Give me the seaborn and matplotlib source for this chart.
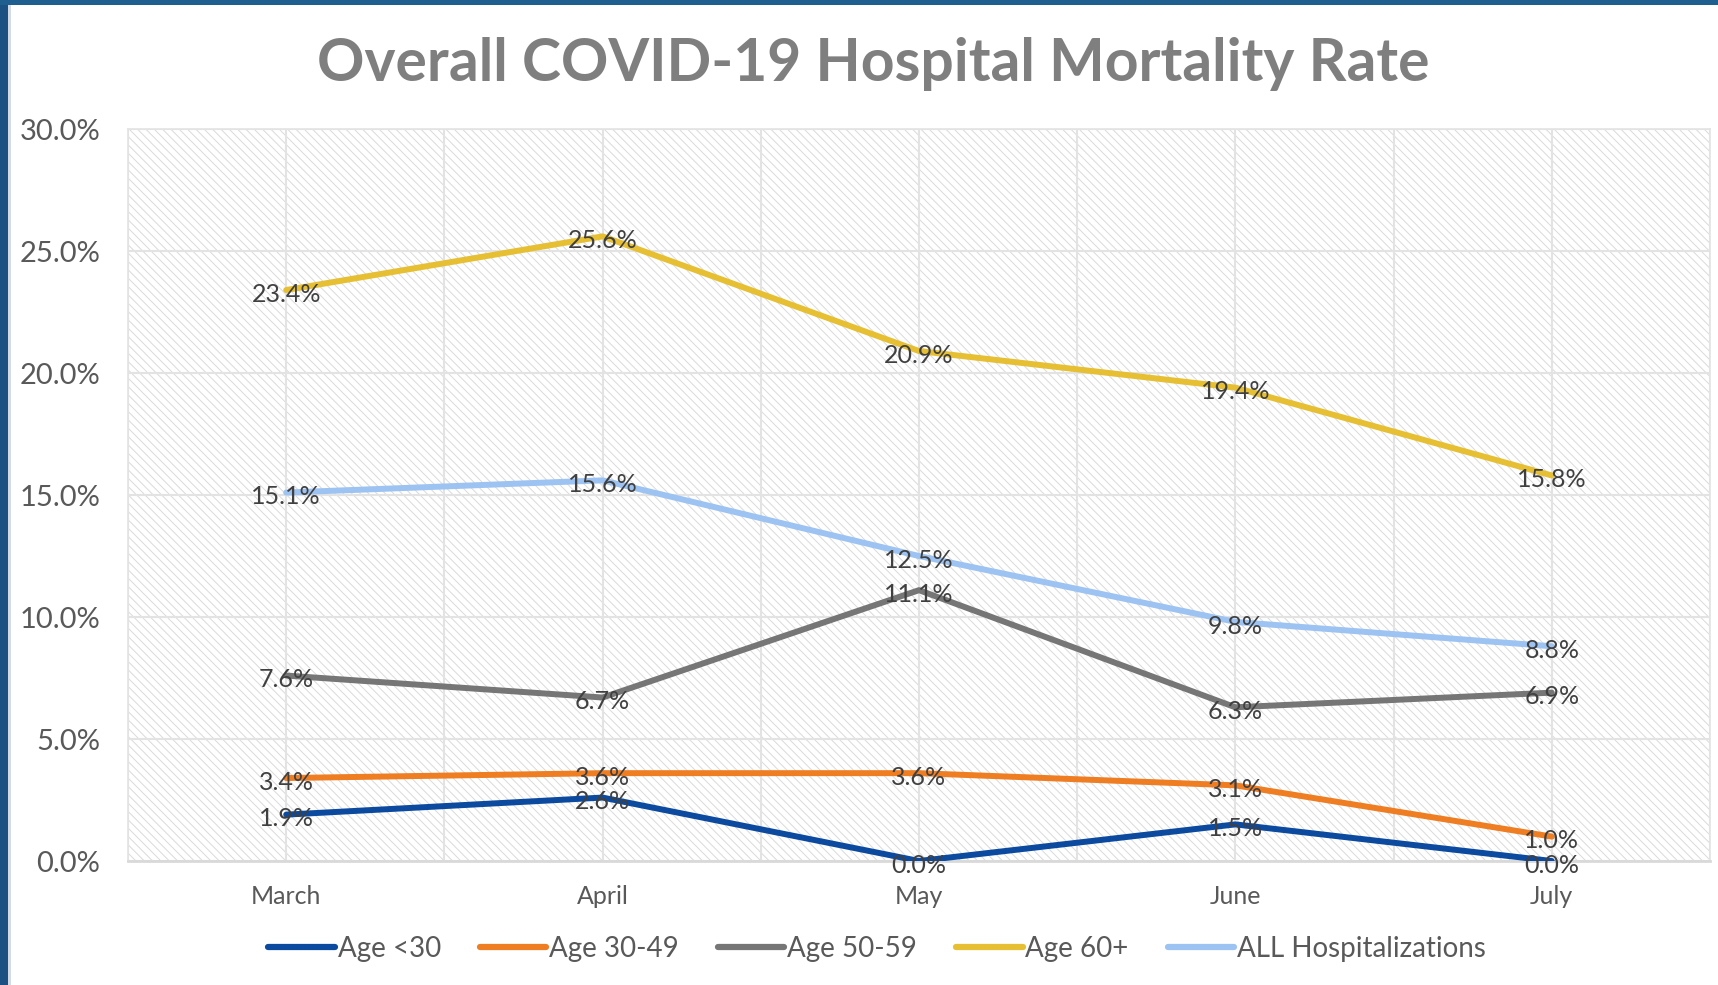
import matplotlib
matplotlib.use("Agg")
import matplotlib.pyplot as plt
import seaborn as sns
import pandas as pd
from matplotlib.patches import Rectangle
from matplotlib.ticker import FuncFormatter, MultipleLocator

months = ["March", "April", "May", "June", "July"]
series_names = ["Age <30", "Age 30-49", "Age 50-59", "Age 60+", "ALL Hospitalizations"]
age_lt30 = [1.9, 2.6, 0.0, 1.5, 0.0]
age_30_49 = [3.4, 3.6, 3.6, 3.1, 1.0]
age_50_59 = [7.6, 6.7, 11.1, 6.3, 6.9]
age_60p = [23.4, 25.6, 20.9, 19.4, 15.8]
all_hosp = [15.1, 15.6, 12.5, 9.8, 8.8]
colors = ["#0B4A9E", "#EF7D22", "#767676", "#E6BF33", "#9DC3F2"]
title = "Overall COVID-19 Hospital Mortality Rate"

values = [age_lt30, age_30_49, age_50_59, age_60p, all_hosp]
rows = []
for name, vals in zip(series_names, values):
    for m, v in zip(months, vals):
        rows.append({"Month": m, "Series": name, "Rate": v})
df = pd.DataFrame(rows)

sns.set_style("white")
plt.rcParams["font.family"] = ["Lato", "DejaVu Sans"]
plt.rcParams["hatch.linewidth"] = 0.7

fig = plt.figure(figsize=(17.18, 9.85), dpi=100)
ax = fig.add_axes([128 / 1718, 1 - 861 / 985, (1710 - 128) / 1718, (861 - 129) / 985])

# hatched plot background
ax.add_patch(Rectangle((0, 0), 1, 1, transform=ax.transAxes, facecolor="white",
                       edgecolor="#dadada", hatch="\\\\\\\\", linewidth=0, zorder=0))

sns.lineplot(data=df, x="Month", y="Rate", hue="Series", palette=colors,
             hue_order=series_names, linewidth=4.3, sort=False, ax=ax,
             legend=True, zorder=3)

for name, vals in zip(series_names, values):
    for i, v in enumerate(vals):
        ax.annotate(f"{v:.1f}%", (i, v), xytext=(0, -3), textcoords="offset points",
                    ha="center", va="center", fontsize=18, color="#404040", zorder=4)

ax.set_xlim(-0.5, 4.5)
ax.set_ylim(0, 30)
ax.set_xticks(range(len(months)))
ax.set_xticklabels(months)
ax.xaxis.set_minor_locator(MultipleLocator(0.5))
ax.yaxis.set_major_locator(MultipleLocator(5))
ax.yaxis.set_major_formatter(FuncFormatter(lambda y, _: f"{y:.1f}%"))
ax.grid(True, which="both", axis="x", color="#e3e3e3", linewidth=1.5, zorder=1)
ax.grid(True, which="major", axis="y", color="#e3e3e3", linewidth=1.5, zorder=1)
ax.set_axisbelow(True)
ax.tick_params(axis="both", which="both", length=0)
ax.tick_params(axis="y", pad=20, labelsize=21, labelcolor="#595959")
ax.tick_params(axis="x", pad=17, labelsize=18, labelcolor="#595959")
ax.set_xlabel("")
ax.set_ylabel("")
for s in ax.spines.values():
    s.set_color("#e3e3e3")
    s.set_linewidth(1.2)
ax.spines["bottom"].set_color("#d9d9d9")
ax.spines["bottom"].set_linewidth(2)

handles, labels = ax.get_legend_handles_labels()
ax.legend_.remove()
leg = fig.legend(handles, labels, loc="center", bbox_to_anchor=(877 / 1718, 1 - 949 / 985),
                 ncol=5, frameon=False, fontsize=20, handlelength=2.4, handletextpad=0.1,
                 columnspacing=1.4, labelcolor="#595959")
for line in leg.get_lines():
    line.set_linewidth(4.5)

t = fig.text(873 / 1718, 1 - 64 / 985, title, ha="center", va="center",
             fontsize=44, fontweight="bold", color="#7f7f7f")
fig.canvas.draw()
w = t.get_window_extent().width
t.set_fontsize(44 * 1112 / w)

# slide frame
fig.patches.append(Rectangle((0, 0), 8 / 1718, 1, transform=fig.transFigure,
                             facecolor="#1B5183", edgecolor="none", zorder=10))
fig.patches.append(Rectangle((8 / 1718, 0), 3 / 1718, 1, transform=fig.transFigure,
                             facecolor="#d5dbe3", edgecolor="none", zorder=10))
fig.patches.append(Rectangle((0, 1 - 5 / 985), 1, 5 / 985, transform=fig.transFigure,
                             facecolor="#1F5F8F", edgecolor="none", zorder=10))

fig.savefig("out.png", dpi=100)
